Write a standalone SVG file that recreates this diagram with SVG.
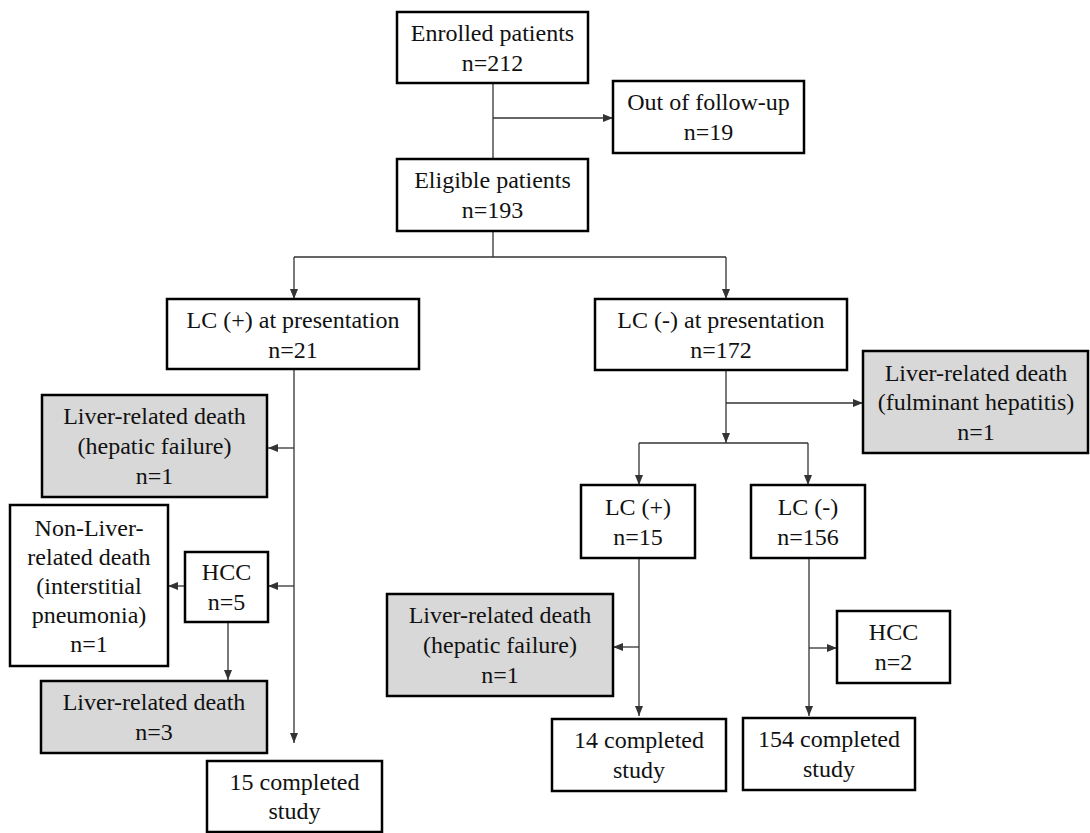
<svg xmlns="http://www.w3.org/2000/svg" width="1090" height="833" viewBox="0 0 1090 833">
<style>
.box{fill:#fff;stroke:#000;stroke-width:2.5}
.shade{fill:#d8d8d8;stroke:#000;stroke-width:2.5}
text{font-family:'Liberation Serif','Times New Roman',Tinos,Times,'DejaVu Serif',serif;font-size:24px;fill:#111;text-anchor:middle}
.c{fill:none;stroke:#333;stroke-width:1.3}
.a{marker-end:url(#ah)}
</style>
<defs>
<marker id="ah" markerUnits="userSpaceOnUse" markerWidth="10" markerHeight="10" viewBox="0 0 10 10" refX="10" refY="5" orient="auto">
<path d="M0,1 L10,5 L0,9 Z" fill="#333"/>
</marker>
</defs>
<rect width="1090" height="833" fill="#fff"/>
<g id="connectors">
<path class="c" d="M493,83 V159"/>
<path class="c a" d="M493,118 H613"/>
<path class="c" d="M493,231 V257 M294,257 H726"/>
<path class="c a" d="M294,257 V299"/>
<path class="c a" d="M726,257 V299"/>
<path class="c a" d="M294,369 V743"/>
<path class="c a" d="M294,448 H268"/>
<path class="c a" d="M294,586 H268"/>
<path class="c a" d="M185,586 H168"/>
<path class="c a" d="M228,622 V680"/>
<path class="c a" d="M726,371 V443"/>
<path class="c a" d="M726,403 H863"/>
<path class="c" d="M639,443 H808"/>
<path class="c a" d="M639,443 V485"/>
<path class="c a" d="M808,443 V485"/>
<path class="c a" d="M639,558 V716"/>
<path class="c a" d="M639,647 H613"/>
<path class="c a" d="M809,558 V716"/>
<path class="c a" d="M809,648 H837"/>
</g>
<g id="enrolled" font-family="Liberation Serif, serif"><rect class="box" x="397" y="12" width="191" height="71"/>
<text x="492.5" y="40.5">Enrolled patients</text><text x="492.5" y="71">n=212</text></g>
<g id="out"><rect class="box" x="613" y="81" width="191" height="72"/>
<text x="708.5" y="110">Out of follow-up</text><text x="708.5" y="140">n=19</text></g>
<g id="eligible"><rect class="box" x="397" y="159" width="191" height="72"/>
<text x="492.5" y="188">Eligible patients</text><text x="492.5" y="218">n=193</text></g>
<g id="lcpos-pres"><rect class="box" x="167" y="299" width="252" height="70"/>
<text x="293" y="328">LC (+) at presentation</text><text x="293" y="358">n=21</text></g>
<g id="lcneg-pres"><rect class="box" x="595" y="299" width="252" height="71"/>
<text x="721" y="328">LC (-) at presentation</text><text x="721" y="358">n=172</text></g>
<g id="liver-hf-left"><rect class="shade" x="42" y="395" width="225" height="102"/>
<text x="154.5" y="424">Liver-related death</text><text x="154.5" y="454">(hepatic failure)</text><text x="154.5" y="484">n=1</text></g>
<g id="nonliver"><rect class="box" x="10" y="505" width="158" height="161"/>
<text x="89" y="536">Non-Liver-</text><text x="89" y="565">related death</text><text x="89" y="594">(interstitial</text><text x="89" y="623">pneumonia)</text><text x="89" y="652">n=1</text></g>
<g id="hcc5"><rect class="box" x="185" y="552" width="83" height="70"/>
<text x="226.5" y="580">HCC</text><text x="226.5" y="610">n=5</text></g>
<g id="liver3"><rect class="shade" x="41" y="681" width="226" height="72"/>
<text x="154" y="710">Liver-related death</text><text x="154" y="740">n=3</text></g>
<g id="comp15"><rect class="box" x="207" y="761" width="175" height="71"/>
<text x="294.5" y="790">15 completed</text><text x="294.5" y="819">study</text></g>
<g id="fulminant"><rect class="shade" x="863" y="351" width="225" height="102"/>
<text x="976" y="381">Liver-related death</text><text x="976" y="410">(fulminant hepatitis)</text><text x="976" y="440">n=1</text></g>
<g id="lcpos-small"><rect class="box" x="581" y="485" width="114" height="73"/>
<text x="638" y="515">LC (+)</text><text x="638" y="545">n=15</text></g>
<g id="lcneg-small"><rect class="box" x="751" y="485" width="114" height="73"/>
<text x="808" y="515">LC (-)</text><text x="808" y="545">n=156</text></g>
<g id="liver-hf-right"><rect class="shade" x="387" y="594" width="226" height="102"/>
<text x="500" y="623">Liver-related death</text><text x="500" y="653">(hepatic failure)</text><text x="500" y="683">n=1</text></g>
<g id="comp14"><rect class="box" x="552" y="719" width="174" height="72"/>
<text x="639" y="748">14 completed</text><text x="639" y="778">study</text></g>
<g id="hcc2"><rect class="box" x="837" y="611" width="113" height="72"/>
<text x="893.5" y="640">HCC</text><text x="893.5" y="670">n=2</text></g>
<g id="comp154"><rect class="box" x="743" y="718" width="172" height="72"/>
<text x="829" y="747">154 completed</text><text x="829" y="777">study</text></g>
</svg>
